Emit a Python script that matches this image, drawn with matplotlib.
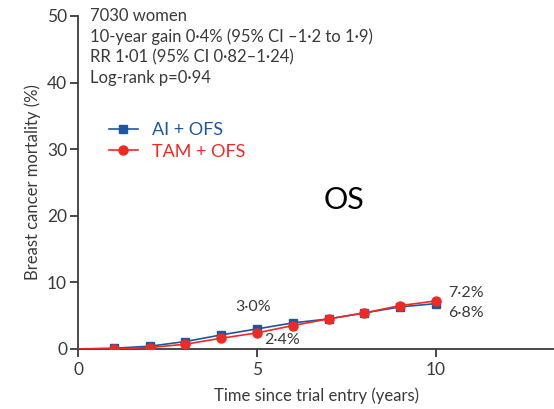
import matplotlib
matplotlib.use("Agg")
import matplotlib.pyplot as plt

plt.rcParams["font.family"] = ["Lato", "DejaVu Sans"]

years = [0, 1, 2, 3, 4, 5, 6, 7, 8, 9, 10]
ai_ofs = [0.0, 0.1, 0.4, 1.1, 2.1, 3.0, 3.9, 4.5, 5.4, 6.3, 6.8]
tam_ofs = [0.0, 0.0, 0.2, 0.7, 1.6, 2.4, 3.5, 4.5, 5.4, 6.5, 7.2]

blue = "#1f56a0"
red = "#ee2a24"
ink = "#3a3a3a"

fig = plt.figure(figsize=(5.54, 4.09), dpi=100)
ax = fig.add_axes([0.141, 0.147, 0.859, 0.814])

ax.plot(years, ai_ofs, color=blue, lw=1.2, marker="s", markersize=6,
        markevery=list(range(1, len(years))), label="AI + OFS", zorder=3)
ax.plot(years, tam_ofs, color=red, lw=1.2, marker="o", markersize=6.5,
        markevery=list(range(1, len(years))), label="TAM + OFS", zorder=4)

ax.set_xlim(0, 13.3)
ax.set_ylim(0, 50)
ax.set_xticks([0, 5, 10])
ax.set_yticks([0, 10, 20, 30, 40, 50])
for s in ["top", "right"]:
    ax.spines[s].set_visible(False)
for s in ["left", "bottom"]:
    ax.spines[s].set_color(ink)
    ax.spines[s].set_linewidth(1.3)
ax.tick_params(colors=ink, labelsize=12.5, length=6, width=1.3, direction="out")
ax.tick_params(axis="y", pad=2)

ax.set_xlabel("Time since trial entry (years)", fontsize=12, color=ink, labelpad=7)
ax.set_ylabel("Breast cancer mortality (%)", fontsize=12, color=ink, labelpad=4)

info = ["7030 women",
        "10-year gain 0·4% (95% CI –1·2 to 1·9)",
        "RR 1·01 (95% CI 0·82–1·24)",
        "Log-rank p=0·94"]
for i, line in enumerate(info):
    ax.text(0.32, 50.0 - i * 3.1, line, fontsize=12, color=ink, va="center")

leg = ax.legend(loc="upper left", bbox_to_anchor=(0.03, 0.73), frameon=False,
                fontsize=13, handlelength=1.6, handletextpad=0.8,
                labelspacing=0.3)
for txt, c in zip(leg.get_texts(), [blue, red]):
    txt.set_color(c)

ax.text(6.85, 22.4, "OS", fontsize=22, color="black", va="center")

ax.text(4.4, 6.3, "3·0%", fontsize=11.5, color=ink, va="center")
ax.text(5.2, 1.3, "2·4%", fontsize=11.5, color=ink, va="center")
ax.text(10.35, 8.4, "7·2%", fontsize=11.5, color=ink, va="center")
ax.text(10.35, 5.4, "6·8%", fontsize=11.5, color=ink, va="center")

fig.savefig("out.png", dpi=100)
